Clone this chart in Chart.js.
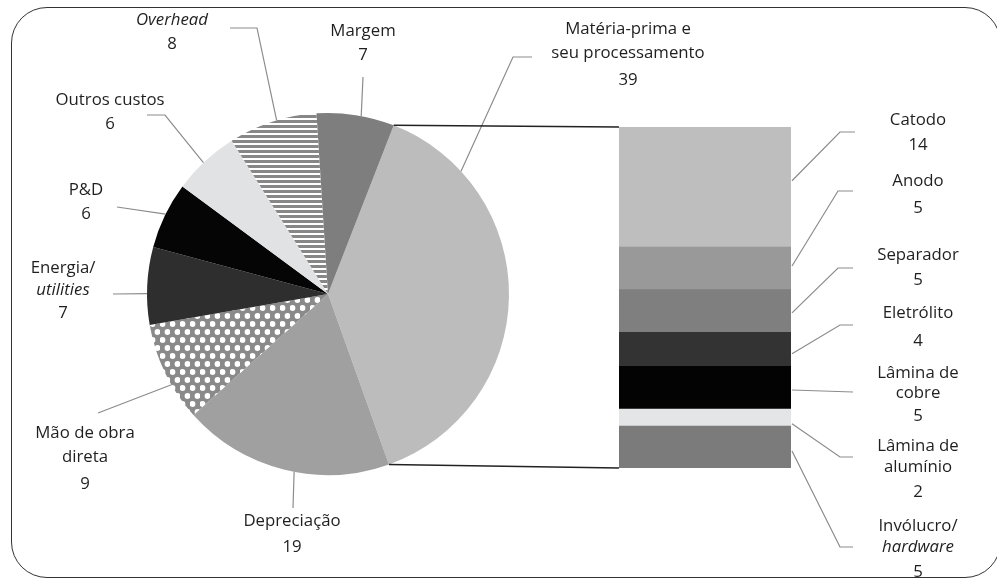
<!DOCTYPE html>
<html>
<head>
<meta charset="utf-8">
<script src="https://cdn.jsdelivr.net/npm/chart.js@4.4.0/dist/chart.umd.min.js"></script>
<style>
  html, body { margin: 0; padding: 0; background: #fff; }
  #wrap { position: relative; width: 997px; height: 581px; overflow: hidden; }
  #wrap canvas { position: absolute; left: 0; top: 0; }
  #frame { position: absolute; left: 11px; top: 7px; width: 990px; height: 571px;
           border: 1.5px solid #333; border-radius: 36px; box-sizing: border-box; }
</style>
</head>
<body>
<div id="wrap">
  <div id="frame"></div>
  <canvas id="pie" width="997" height="581"></canvas>
  <canvas id="bar" width="997" height="581"></canvas>
</div>
<script>
// cost structure (pie)
const costLabels = ['Matéria-prima e seu processamento', 'Depreciação', 'Mão de obra direta',
  'Energia/utilities', 'P&D', 'Outros custos', 'Overhead', 'Margem'];
const costValues = [39, 19, 9, 7, 6, 6, 8, 7];

// breakdown of raw material (stacked bar)
const materialLabels = ['Catodo', 'Anodo', 'Separador', 'Eletrólito', 'Lâmina de cobre',
  'Lâmina de alumínio', 'Invólucro/hardware'];
const materialValues = [14, 5, 5, 4, 5, 2, 5];

const FONT = '16.8px "Open Sans"';
const FONT_IT = 'italic 16.8px "Open Sans"';

function dotPattern() {
  const c = document.createElement('canvas');
  c.width = 10; c.height = 16;
  const g = c.getContext('2d');
  g.fillStyle = '#8a8a8a';
  g.fillRect(0, 0, 10, 16);
  g.fillStyle = '#fff';
  [[2.5, 4], [7.5, 12]].forEach(p => {
    g.beginPath(); g.arc(p[0], p[1], 2.9, 0, Math.PI * 2); g.fill();
  });
  return g.createPattern(c, 'repeat');
}

function stripePattern() {
  const c = document.createElement('canvas');
  c.width = 4; c.height = 5;
  const g = c.getContext('2d');
  g.fillStyle = '#fff';
  g.fillRect(0, 0, 4, 5);
  g.fillStyle = '#878787';
  g.fillRect(0, 0, 4, 3);
  return g.createPattern(c, 'repeat');
}

const costColors = ['#bdbcbd', '#a0a0a0', dotPattern(), '#2e2e2e', '#050505', '#e1e2e4',
  stripePattern(), '#7e7e7e'];
const materialColors = ['#bfbebf', '#999999', '#7f7f7f', '#333333', '#030303', '#e3e5e7', '#7b7b7b'];

// text blocks: [x, [[text, italic, y], ...]]
const pieText = [
  [628, [['Matéria-prima e', 0, 29], ['seu processamento', 0, 53], ['39', 0, 80]]],
  [292, [['Depreciação', 0, 521], ['19', 0, 547]]],
  [85, [['Mão de obra', 0, 433], ['direta', 0, 457], ['9', 0, 484]]],
  [63, [['Energia/', 0, 268], ['utilities', 1, 290], ['7', 0, 313]]],
  [86, [['P&D', 0, 190], ['6', 0, 214]]],
  [110, [['Outros custos', 0, 100], ['6', 0, 124]]],
  [172, [['Overhead', 1, 20], ['8', 0, 44]]],
  [363, [['Margem', 0, 31], ['7', 0, 55]]]
];
// leader lines: fixed start points, last point is on the slice edge (fraction along slice)
const pieLeaders = [
  [[[532, 57], [513, 57]], 0.187],
  [[[293, 508]], 0.45],
  [[[98, 413]], 0.37],
  [[[113, 294]], 0.4],
  [[[117, 207]], 0.52],
  [[[147, 115], [165, 115]], 0.47],
  [[[230, 28], [257, 28]], 0.55],
  [[[363, 77]], 0.57]
];
const barText = [
  [['Catodo', 0, 120], ['14', 0, 145]],
  [['Anodo', 0, 181], ['5', 0, 208]],
  [['Separador', 0, 255], ['5', 0, 280]],
  [['Eletrólito', 0, 313], ['4', 0, 341]],
  [['Lâmina de', 0, 373], ['cobre', 0, 393], ['5', 0, 416]],
  [['Lâmina de', 0, 446], ['alumínio', 0, 467], ['2', 0, 492]],
  [['Invólucro/', 0, 526], ['hardware', 1, 547], ['5', 0, 572]]
];
const barLeaders = [
  [[[855, 132], [840, 132]], 0.45],
  [[[853, 191], [838, 191]], 0.46],
  [[[853, 268], [838, 268]], 0.56],
  [[[853, 325], [840, 325]], 0.65],
  [[[853, 392]], 0.57],
  [[[853, 457], [840, 457]], 0.9],
  [[[853, 547], [840, 547]], 0.6]
];

function drawText(ctx, x, lines) {
  ctx.fillStyle = '#1f1f1f';
  ctx.textAlign = 'center';
  ctx.textBaseline = 'middle';
  lines.forEach(l => {
    ctx.font = l[1] ? FONT_IT : FONT;
    ctx.fillText(l[0], x, l[2]);
  });
}

function drawLeader(ctx, pts, end) {
  ctx.strokeStyle = '#8c8c8c';
  ctx.lineWidth = 1.2;
  ctx.beginPath();
  ctx.moveTo(pts[0][0], pts[0][1]);
  pts.slice(1).forEach(p => ctx.lineTo(p[0], p[1]));
  ctx.lineTo(end[0], end[1]);
  ctx.stroke();
}

function arcPoint(arc, t) {
  const a = arc.startAngle + t * (arc.endAngle - arc.startAngle);
  return [arc.x + arc.outerRadius * Math.cos(a), arc.y + arc.outerRadius * Math.sin(a)];
}

const pieLabelsPlugin = {
  id: 'pieLabels',
  afterDraw(chart) {
    const ctx = chart.ctx;
    const arcs = chart.getDatasetMeta(0).data;
    ctx.save();
    pieLeaders.forEach((l, i) => drawLeader(ctx, l[0], arcPoint(arcs[i], l[1])));
    pieText.forEach(t => drawText(ctx, t[0], t[1]));
    ctx.restore();
  }
};

const pieChart = new Chart(document.getElementById('pie'), {
  type: 'pie',
  data: {
    labels: costLabels,
    datasets: [{ data: costValues, backgroundColor: costColors, borderWidth: 0 }]
  },
  options: {
    responsive: false,
    animation: false,
    rotation: 21.3,
    layout: { padding: { left: 147, right: 488, top: 113, bottom: 106 } },
    plugins: { legend: { display: false }, tooltip: { enabled: false } }
  },
  plugins: [pieLabelsPlugin]
});

const barLabelsPlugin = {
  id: 'barLabels',
  afterDraw(chart) {
    const ctx = chart.ctx;
    ctx.save();
    // connectors from the raw-material slice to the bar
    const arc = pieChart.getDatasetMeta(0).data[0];
    const first = chart.getDatasetMeta(0).data[0];
    const last = chart.getDatasetMeta(materialValues.length - 1).data[0];
    const left = first.x - first.width / 2;
    const top = Math.min(first.y, first.base);
    const bottom = Math.max(last.y, last.base);
    const p0 = arcPoint(arc, 0), p1 = arcPoint(arc, 1);
    ctx.strokeStyle = '#222';
    ctx.lineWidth = 1.5;
    ctx.beginPath();
    ctx.moveTo(p0[0], p0[1]); ctx.lineTo(left, top);
    ctx.moveTo(p1[0], p1[1]); ctx.lineTo(left, bottom);
    ctx.stroke();

    barLeaders.forEach((l, i) => {
      const bar = chart.getDatasetMeta(i).data[0];
      const y0 = Math.min(bar.y, bar.base), y1 = Math.max(bar.y, bar.base);
      drawLeader(ctx, l[0], [bar.x + bar.width / 2 + 1, y0 + l[1] * (y1 - y0)]);
    });
    barText.forEach(t => drawText(ctx, 918, t));
    ctx.restore();
  }
};

new Chart(document.getElementById('bar'), {
  type: 'bar',
  data: {
    labels: [costLabels[0]],
    datasets: materialLabels.map((l, i) => ({
      label: l,
      data: [materialValues[i]],
      backgroundColor: materialColors[i],
      borderWidth: 0,
      barPercentage: 1,
      categoryPercentage: 1
    }))
  },
  options: {
    responsive: false,
    animation: false,
    layout: { padding: { left: 619, right: 206, top: 127, bottom: 113 } },
    scales: {
      x: { stacked: true, display: false },
      y: { stacked: true, display: false, reverse: true, min: 0, max: 40 }
    },
    plugins: { legend: { display: false }, tooltip: { enabled: false } }
  },
  plugins: [barLabelsPlugin]
});
</script>
</body>
</html>
